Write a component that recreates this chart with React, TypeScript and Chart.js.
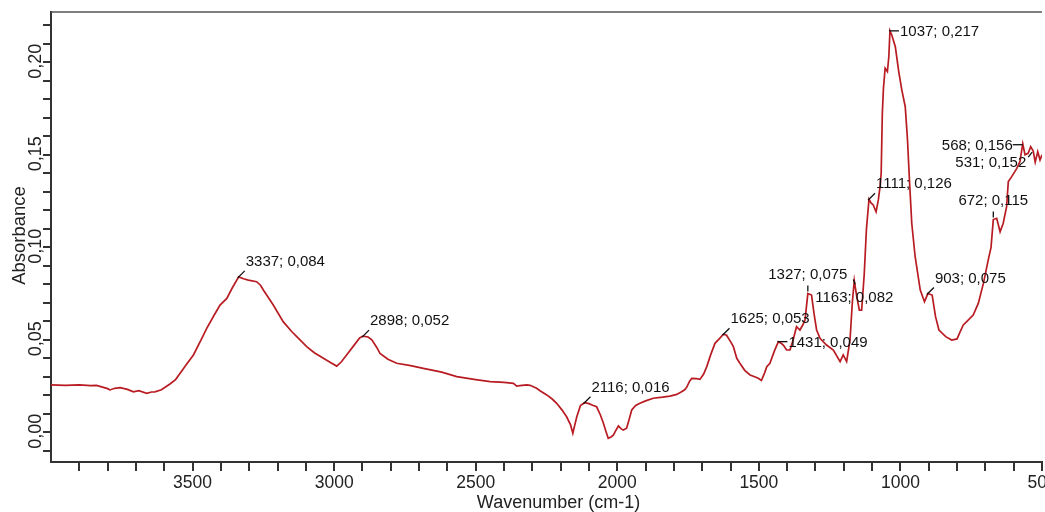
import React, { useEffect, useRef } from 'react';
import { Chart, registerables } from 'chart.js';

Chart.register(...registerables);

// Spectrum trace (wavenumber in cm-1, absorbance)
const wavenumbers = [
  4000, 3950, 3900, 3860, 3839, 3800, 3792, 3775, 3756, 3730, 3709, 3690, 3662, 3645, 3633, 3610,
  3580, 3560, 3544, 3520, 3497, 3470, 3450, 3425, 3403, 3379, 3360, 3337, 3320, 3303, 3274, 3260,
  3250, 3215, 3180, 3150, 3132, 3097, 3070, 3038, 3010, 2991, 2975, 2956, 2930, 2910, 2898, 2880,
  2867, 2850, 2838, 2810, 2779, 2730, 2685, 2620, 2567, 2500, 2449, 2400, 2367, 2355, 2344, 2320,
  2308, 2285, 2273, 2249, 2230, 2214, 2195, 2179, 2165, 2157, 2150, 2143, 2130, 2116, 2100, 2085,
  2073, 2060, 2049, 2040, 2032, 2022, 2014, 2005, 1996, 1987, 1979, 1967, 1958, 1949, 1935, 1920,
  1900, 1873, 1840, 1814, 1790, 1773, 1762, 1755, 1745, 1737, 1720, 1708, 1695, 1684, 1670, 1655,
  1640, 1625, 1614, 1600, 1590, 1578, 1567, 1550, 1531, 1515, 1502, 1491, 1480, 1472, 1461, 1445,
  1431, 1420, 1413, 1402, 1390, 1379, 1367, 1355, 1345, 1337, 1327, 1314, 1305, 1296, 1284, 1261,
  1237, 1213, 1202, 1190, 1178, 1170, 1163, 1155, 1145, 1137, 1128, 1120, 1111, 1104, 1096, 1086,
  1078, 1072, 1068, 1064, 1060, 1054, 1046, 1041, 1037, 1030, 1018, 1006, 995, 983, 975, 968,
  960, 948, 930, 915, 903, 888, 876, 864, 840, 819, 800, 790, 778, 766, 743, 725,
  707, 690, 680, 672, 660, 648, 637, 625, 619, 607, 589, 578, 568, 560, 549, 540,
  531, 524, 515, 507, 500,
];

const absorbance = [
  0.0256, 0.0254, 0.0256, 0.0252, 0.0254, 0.0236, 0.0229, 0.0238, 0.0241, 0.0232, 0.0219, 0.0225, 0.0211, 0.0218, 0.0219, 0.0230,
  0.0261, 0.0285, 0.0319, 0.0370, 0.0418, 0.0500, 0.0562, 0.0630, 0.0688, 0.0724, 0.0780, 0.0840, 0.0830, 0.0823, 0.0814, 0.0795,
  0.0769, 0.0688, 0.0598, 0.0545, 0.0517, 0.0463, 0.0430, 0.0400, 0.0375, 0.0358, 0.0380, 0.0418, 0.0470, 0.0510, 0.0520, 0.0515,
  0.0500, 0.0460, 0.0427, 0.0395, 0.0373, 0.0360, 0.0346, 0.0325, 0.0301, 0.0285, 0.0274, 0.0270, 0.0265, 0.0250, 0.0252, 0.0256,
  0.0254, 0.0238, 0.0225, 0.0202, 0.0180, 0.0157, 0.0120, 0.0084, 0.0040, -0.0005, 0.0040, 0.0084, 0.0145, 0.0160, 0.0155, 0.0145,
  0.0138, 0.0095, 0.0049, 0.0005, -0.0032, -0.0025, -0.0015, 0.0010, 0.0034, 0.0020, 0.0012, 0.0022, 0.0070, 0.0121, 0.0145, 0.0157,
  0.0170, 0.0184, 0.0190, 0.0196, 0.0205, 0.0219, 0.0230, 0.0243, 0.0275, 0.0292, 0.0290, 0.0286, 0.0315, 0.0355, 0.0420, 0.0481,
  0.0505, 0.0530, 0.0525, 0.0490, 0.0463, 0.0400, 0.0373, 0.0335, 0.0310, 0.0300, 0.0292, 0.0280, 0.0320, 0.0355, 0.0373, 0.0440,
  0.0490, 0.0480, 0.0470, 0.0445, 0.0445, 0.0499, 0.0571, 0.0553, 0.0580, 0.0607, 0.0750, 0.0742, 0.0640, 0.0553, 0.0508, 0.0472,
  0.0445, 0.0382, 0.0418, 0.0382, 0.0499, 0.0700, 0.0820, 0.0740, 0.0660, 0.0660, 0.0850, 0.1100, 0.1260, 0.1240, 0.1229, 0.1192,
  0.1256, 0.1328, 0.1400, 0.1720, 0.1860, 0.1968, 0.1950, 0.2030, 0.2170, 0.2145, 0.2084, 0.1950, 0.1850, 0.1760, 0.1580, 0.1360,
  0.1130, 0.0949, 0.0769, 0.0706, 0.0750, 0.0742, 0.0625, 0.0553, 0.0517, 0.0499, 0.0505, 0.0540, 0.0580, 0.0598, 0.0634, 0.0697,
  0.0805, 0.0931, 0.1000, 0.1150, 0.1157, 0.1084, 0.1130, 0.1220, 0.1355, 0.1382, 0.1427, 0.1463, 0.1560, 0.1500, 0.1508, 0.1544,
  0.1520, 0.1460, 0.1517, 0.1472, 0.1500,
];

// Peak annotations
const annWavenumbers = [3337, 2898, 2116, 1625, 1431, 1327, 1163, 1111, 1037, 903, 672, 568, 531];
const annValues = [0.084, 0.052, 0.016, 0.053, 0.049, 0.075, 0.082, 0.126, 0.217, 0.075, 0.115, 0.156, 0.152];
const annPlacement = ['ur', 'ur', 'ur', 'ur', 'r', 'a', 'b', 'ur', 'r', 'ur', 'a', 'l', 'bl'];

// Axis tick labels
const xTickValues = [3500, 3000, 2500, 2000, 1500, 1000, 500];
const yTickValues = [0, 0.05, 0.1, 0.15, 0.2];

const FONT = '"Liberation Sans", Arial, sans-serif';

const overlayPlugin = {
  id: 'overlay',
  afterDraw(chart: any) {
    const { ctx, chartArea, scales } = chart;
    const xs = scales.x;
    const ys = scales.y;
    ctx.save();

    // top frame line
    ctx.strokeStyle = '#555';
    ctx.lineWidth = 1.5;
    ctx.beginPath();
    ctx.moveTo(chartArea.left, chartArea.top);
    ctx.lineTo(chartArea.right, chartArea.top);
    ctx.stroke();

    // x tick labels
    ctx.fillStyle = '#222';
    ctx.textAlign = 'center';
    ctx.textBaseline = 'middle';
    ctx.font = `17.5px ${FONT}`;
    xTickValues.forEach((v) => {
      ctx.fillText(String(v), xs.getPixelForValue(v), chartArea.bottom + 21);
    });

    // x title
    ctx.font = `18px ${FONT}`;
    ctx.fillText('Wavenumber (cm-1)', (chartArea.left + chartArea.right) / 2 + 12, chartArea.bottom + 41.5);

    // y tick labels (rotated)
    ctx.font = `18px ${FONT}`;
    yTickValues.forEach((v) => {
      ctx.save();
      ctx.translate(36.5, ys.getPixelForValue(v) - 1);
      ctx.rotate(-Math.PI / 2);
      ctx.fillText(v.toFixed(2).replace('.', ','), 0, 0);
      ctx.restore();
    });

    // y title
    ctx.save();
    ctx.font = `18.5px ${FONT}`;
    ctx.translate(20, (chartArea.top + chartArea.bottom) / 2 - 1.5);
    ctx.rotate(-Math.PI / 2);
    ctx.fillText('Absorbance', 0, 0);
    ctx.restore();

    // annotations
    ctx.font = `15px ${FONT}`;
    ctx.fillStyle = '#111';
    ctx.strokeStyle = '#111';
    ctx.lineWidth = 1.3;
    annWavenumbers.forEach((w, i) => {
      const px = xs.getPixelForValue(w);
      const py = ys.getPixelForValue(annValues[i]);
      const text = `${w}; ${annValues[i].toFixed(3).replace('.', ',')}`;
      const line = (x1: number, y1: number, x2: number, y2: number) => {
        ctx.beginPath();
        ctx.moveTo(x1, y1);
        ctx.lineTo(x2, y2);
        ctx.stroke();
      };
      switch (annPlacement[i]) {
        case 'ur':
          line(px - 1, py + 1, px + 6, py - 6);
          ctx.textAlign = 'left';
          ctx.fillText(text, px + 7, py - 15);
          break;
        case 'r':
          line(px - 1, py, px + 9, py);
          ctx.textAlign = 'left';
          ctx.fillText(text, px + 10, py + 1);
          break;
        case 'a':
          line(px, py - 2, px, py - 8);
          ctx.textAlign = 'center';
          ctx.fillText(text, px, py - 19);
          break;
        case 'b':
          line(px - 1, py - 1, px + 1, py + 4);
          ctx.textAlign = 'center';
          ctx.fillText(text, px, py + 17);
          break;
        case 'l':
          line(px - 10, py + 1, px, py + 1);
          ctx.textAlign = 'right';
          ctx.fillText(text, px - 10, py + 2);
          break;
        case 'bl':
          line(px - 1, py + 1, px - 5, py + 6);
          ctx.textAlign = 'right';
          ctx.fillText(text, px - 7, py + 12);
          break;
      }
    });

    ctx.restore();
  },
};

export default function App() {
  const canvasRef = useRef<HTMLCanvasElement | null>(null);

  useEffect(() => {
    const canvas = canvasRef.current;
    if (!canvas) return;
    const points = wavenumbers.map((w, i) => ({ x: w, y: absorbance[i] }));
    const chart = new Chart(canvas, {
      type: 'line',
      data: {
        datasets: [
          {
            data: points,
            borderColor: '#b81c22',
            borderWidth: 1.7,
            pointRadius: 0,
            tension: 0,
            fill: false,
          },
        ],
      },
      options: {
        animation: false,
        responsive: false,
        devicePixelRatio: 1,
        layout: { padding: { left: 0, top: 12, right: 33, bottom: 0 } },
        plugins: {
          legend: { display: false },
          tooltip: { enabled: false },
        },
        scales: {
          x: {
            type: 'linear',
            reverse: true,
            min: 500,
            max: 4000,
            afterFit: (s: any) => {
              s.height = 50;
            },
            ticks: { display: false, stepSize: 100, includeBounds: false },
            border: { display: true, color: '#333', width: 2 },
            grid: {
              display: true,
              drawOnChartArea: false,
              drawTicks: true,
              tickLength: 9,
              lineWidth: 2,
              color: (c: any) => (c.tick && c.tick.value === 4000 ? 'rgba(0,0,0,0)' : '#333'),
            },
          },
          y: {
            type: 'linear',
            min: -0.01605,
            max: 0.2272,
            afterFit: (s: any) => {
              s.width = 51;
            },
            ticks: { display: false, stepSize: 0.01, includeBounds: false },
            border: { display: true, color: '#333', width: 2 },
            grid: {
              display: true,
              drawOnChartArea: false,
              drawTicks: true,
              tickLength: 8,
              lineWidth: 2,
              color: '#333',
            },
          },
        },
      },
      plugins: [overlayPlugin],
    });
    return () => chart.destroy();
  }, []);

  return (
    <div
      style={{
        position: 'absolute',
        left: 0,
        top: 0,
        width: 1045,
        height: 512,
        overflow: 'hidden',
        background: '#fff',
      }}
    >
      <canvas ref={canvasRef} width={1075} height={512} style={{ display: 'block' }} />
    </div>
  );
}
